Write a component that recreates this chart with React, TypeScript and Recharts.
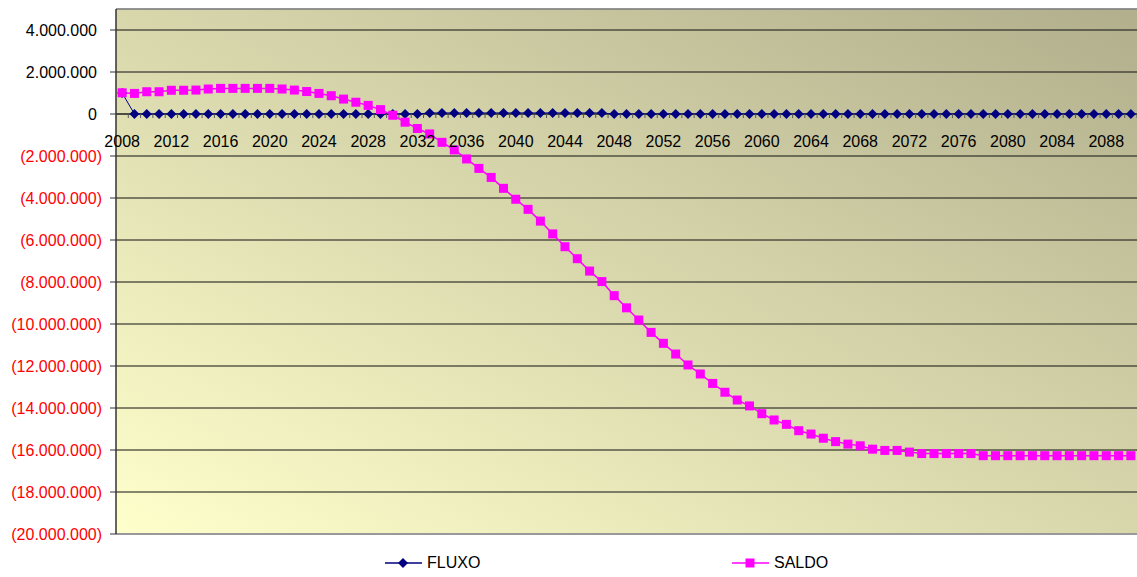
import { LineChart, Line, XAxis, YAxis, CartesianGrid, ReferenceLine, Legend } from 'recharts';

const YEARS = [
  '2008', '2009', '2010', '2011', '2012', '2013', '2014', '2015', '2016', '2017',
  '2018', '2019', '2020', '2021', '2022', '2023', '2024', '2025', '2026', '2027',
  '2028', '2029', '2030', '2031', '2032', '2033', '2034', '2035', '2036', '2037',
  '2038', '2039', '2040', '2041', '2042', '2043', '2044', '2045', '2046', '2047',
  '2048', '2049', '2050', '2051', '2052', '2053', '2054', '2055', '2056', '2057',
  '2058', '2059', '2060', '2061', '2062', '2063', '2064', '2065', '2066', '2067',
  '2068', '2069', '2070', '2071', '2072', '2073', '2074', '2075', '2076', '2077',
  '2078', '2079', '2080', '2081', '2082', '2083', '2084', '2085', '2086', '2087',
  '2088', '2089', '2090',
];

const FLUXO = [
  1000000, 0, 0, 0, 0, 0, 0, 0, 0, 0,
  0, 0, 0, 0, 0, 0, 0, 0, 0, 0,
  0, 0, 0, 0, 0, 50000, 50000, 50000, 50000, 50000,
  50000, 50000, 50000, 50000, 50000, 50000, 50000, 50000, 50000, 50000,
  0, 0, 0, 0, 0, 0, 0, 0, 0, 0,
  0, 0, 0, 0, 0, 0, 0, 0, 0, 0,
  0, 0, 0, 0, 0, 0, 0, 0, 0, 0,
  0, 0, 0, 0, 0, 0, 0, 0, 0, 0,
  0, 0, 0,
];

const SALDO = [
  1010000, 980000, 1060000, 1060000, 1130000, 1130000, 1140000, 1190000, 1220000, 1220000,
  1220000, 1220000, 1220000, 1190000, 1140000, 1070000, 980000, 870000, 710000, 560000,
  410000, 210000, -60000, -390000, -690000, -950000, -1350000, -1710000, -2140000, -2590000,
  -3020000, -3540000, -4060000, -4540000, -5100000, -5710000, -6320000, -6890000, -7480000, -7980000,
  -8650000, -9230000, -9810000, -10400000, -10920000, -11430000, -11950000, -12380000, -12830000, -13250000,
  -13620000, -13900000, -14270000, -14570000, -14780000, -15080000, -15240000, -15440000, -15600000, -15720000,
  -15800000, -15960000, -16020000, -16020000, -16100000, -16170000, -16170000, -16170000, -16170000, -16170000,
  -16270000, -16270000, -16270000, -16270000, -16270000, -16270000, -16270000, -16270000, -16270000, -16270000,
  -16270000, -16270000, -16270000,
];

const Y_TICKS = [
  -20000000, -18000000, -16000000, -14000000, -12000000, -10000000, -8000000,
  -6000000, -4000000, -2000000, 0, 2000000, 4000000,
];
const Y_MIN = -20000000;
const Y_MAX = 5000000;

const W = 1137;
const H = 577;
const TOP = 9;
const LEFT = 116;
const PLOT_W = W - LEFT;
const PLOT_H = 525;
const X_AXIS_H = 30;
const STEP = PLOT_W / YEARS.length;
const ZERO_Y = TOP + ((Y_MAX - 0) / (Y_MAX - Y_MIN)) * PLOT_H;
const FONT = 'Arial, "Liberation Sans", sans-serif';

const rows = YEARS.map((year, i) => ({ year, fluxo: FLUXO[i], saldo: SALDO[i] }));

function fmt(n: number) {
  return String(Math.round(n)).replace(/\B(?=(\d{3})+(?!\d))/g, '.');
}

function YTick({ x, y, payload }: any) {
  const v = payload.value;
  const neg = v < 0;
  return (
    <text
      x={neg ? x : x - 5}
      y={y}
      dy="0.355em"
      textAnchor="end"
      fill={neg ? '#ff0000' : '#000'}
      fontSize={16}
      fontFamily={FONT}
    >
      {neg ? `(${fmt(-v)})` : fmt(v)}
    </text>
  );
}

// year labels sit on the zero line, not at the bottom of the plot
function XTick({ x, payload, index }: any) {
  return (
    <g>
      <line x1={x - STEP / 2} x2={x - STEP / 2} y1={ZERO_Y} y2={ZERO_Y + 4} stroke="#555" />
      {index === YEARS.length - 1 && (
        <line x1={x + STEP / 2} x2={x + STEP / 2} y1={ZERO_Y} y2={ZERO_Y + 4} stroke="#555" />
      )}
      {index % 4 === 0 && (
        <text x={x} y={ZERO_Y + 27} dy="0.355em" textAnchor="middle" fill="#000" fontSize={16} fontFamily={FONT}>
          {payload.value}
        </text>
      )}
    </g>
  );
}

function Diamond({ cx, cy, fill }: any) {
  return <path d={`M${cx},${cy - 5}L${cx + 5},${cy}L${cx},${cy + 5}L${cx - 5},${cy}Z`} fill={fill} />;
}

function Square({ cx, cy, fill }: any) {
  return <rect x={cx - 4.5} y={cy - 4.5} width={9} height={9} fill={fill} />;
}

function LegendBox() {
  const item = (left: number, color: string, label: string, square: boolean) => (
    <div style={{ position: 'absolute', left, top: 0, height: 20, display: 'flex', alignItems: 'center' }}>
      <svg width={38} height={20}>
        <line x1={0} x2={37} y1={10} y2={10} stroke={color} strokeWidth={1.5} />
        {square ? <Square cx={18} cy={10} fill={color} /> : <Diamond cx={18} cy={10} fill={color} />}
      </svg>
      <span style={{ fontFamily: FONT, fontSize: 16, color: '#000', marginLeft: 4 }}>{label}</span>
    </div>
  );
  return (
    <div style={{ position: 'relative', width: W, height: 0, overflow: 'visible' }}>
      {item(385, '#000080', 'FLUXO', false)}
      {item(732, '#ff00ff', 'SALDO', true)}
    </div>
  );
}

export default function App() {
  return (
    <div style={{ position: 'absolute', left: 0, top: 0, background: '#fff' }}>
      <LineChart
        width={W}
        height={H}
        data={rows}
        margin={{ top: TOP, right: 0, bottom: H - TOP - PLOT_H - X_AXIS_H, left: 0 }}
      >
        <defs>
          <linearGradient id="bg" x1="0" y1="1" x2="1" y2="0">
            <stop offset="0%" stopColor="#ffffcc" />
            <stop offset="100%" stopColor="#b1af8c" />
          </linearGradient>
        </defs>
        <CartesianGrid vertical={false} horizontal={true} stroke="#111" fill="url(#bg)" fillOpacity={1} />
        <ReferenceLine y={Y_MAX} stroke="#999" strokeWidth={1.5} />
        <ReferenceLine y={Y_MIN} stroke="#999" strokeWidth={2} />
        <ReferenceLine y={0} stroke="#222" />
        <XAxis
          dataKey="year"
          type="category"
          interval={0}
          height={X_AXIS_H}
          axisLine={false}
          tickLine={false}
          padding={{ left: STEP / 2, right: STEP / 2 }}
          tick={<XTick />}
        />
        <YAxis
          type="number"
          width={LEFT}
          domain={[Y_MIN, Y_MAX]}
          ticks={Y_TICKS}
          interval={0}
          tickSize={6}
          tickMargin={8}
          axisLine={{ stroke: '#333', strokeWidth: 1.5 }}
          tickLine={{ stroke: '#333' }}
          tick={<YTick />}
        />
        <Line
          dataKey="fluxo"
          name="FLUXO"
          stroke="#000080"
          strokeWidth={1}
          isAnimationActive={false}
          dot={(p: any) => <Diamond key={`f-${p.index}`} cx={p.cx} cy={p.cy} fill="#000080" />}
          activeDot={false}
        />
        <Line
          dataKey="saldo"
          name="SALDO"
          stroke="#ff00ff"
          strokeWidth={1.5}
          isAnimationActive={false}
          dot={(p: any) => <Square key={`s-${p.index}`} cx={p.cx} cy={p.cy} fill="#ff00ff" />}
          activeDot={false}
        />
        <Legend
          verticalAlign="bottom"
          wrapperStyle={{ top: 553, left: 0, width: W }}
          content={() => <LegendBox />}
        />
      </LineChart>
    </div>
  );
}
